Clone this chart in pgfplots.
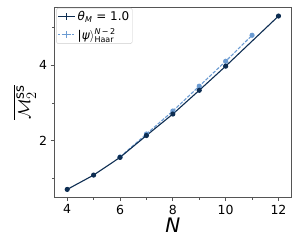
\documentclass[border=0pt]{standalone}
\usepackage{amsmath}
\usepackage{fontspec}
\setmainfont{DejaVu Sans}
\usepackage{pgfplots}
\pgfplotsset{compat=1.18}
\definecolor{dk}{HTML}{0D2D52}
\definecolor{lt}{HTML}{6B9BD2}
\definecolor{sp}{HTML}{555555}
\begin{document}
\begin{tikzpicture}
\begin{axis}[
  scale only axis, width=237.7pt, height=190.7pt,
  xmin=3.5, xmax=12.5, ymin=0.49, ymax=5.55,
  xtick={4,6,8,10,12}, minor xtick={5,7,9,11},
  ytick={2,4}, minor ytick={1,3,5},
  tick align=outside, tick pos=left,
  major tick length=3.5pt, minor tick length=2pt,
  every tick/.style={sp, line width=0.8pt},
  axis line style={sp, line width=0.8pt},
  /pgf/number format/assume math mode=true,
  tick label style={font=\fontsize{12.5}{12.5}\selectfont},
  xlabel={\fontsize{20}{20}\selectfont\textit{N}},
  ylabel={\fontsize{19}{19}\selectfont$\overline{\mathcal{M}_2^{\textrm{ss}}}$},
  xlabel style={yshift=3pt},
  ylabel style={yshift=-4pt},
  legend style={at={(0.01,0.995)}, anchor=north west, font=\fontsize{12}{12}\selectfont,
    draw=black!20, rounded corners=1.5pt, inner sep=1pt, row sep=3pt},
  legend cell align=left,
]
\addlegendimage{dk, line width=1.1pt, mark=+, mark size=3.5pt}
\addlegendentry{\textit{θ}$_{\textit{M}}$ = 1.0}
\addlegendimage{lt, line width=1.1pt, dashed, dash pattern=on 2pt off 1.5pt, mark=+, mark size=3.5pt, mark options={solid}}
\addlegendentry{|\textit{ψ}$\rangle^{\textit{N}\,\textrm{−}\,\textrm{2}}_{\textrm{Haar}}$}
\addplot[forget plot, lt, line width=1.1pt, dashed, dash pattern=on 3.5pt off 1.5pt, mark=*, mark size=2pt, mark options={solid}] coordinates {
(6,1.57) (7,2.18) (8,2.79) (9,3.45) (10,4.11) (11,4.80)
};
\addplot[forget plot, dk, line width=1.1pt, mark=*, mark size=2pt] coordinates {
(4,0.71) (5,1.09) (6,1.56) (7,2.14) (8,2.71) (9,3.34) (10,3.98) (12,5.31)
};
\end{axis}
\pgfresetboundingbox
\useasboundingbox (-54pt,-51.3pt) rectangle (245pt,197.7pt);
\end{tikzpicture}
\end{document}
